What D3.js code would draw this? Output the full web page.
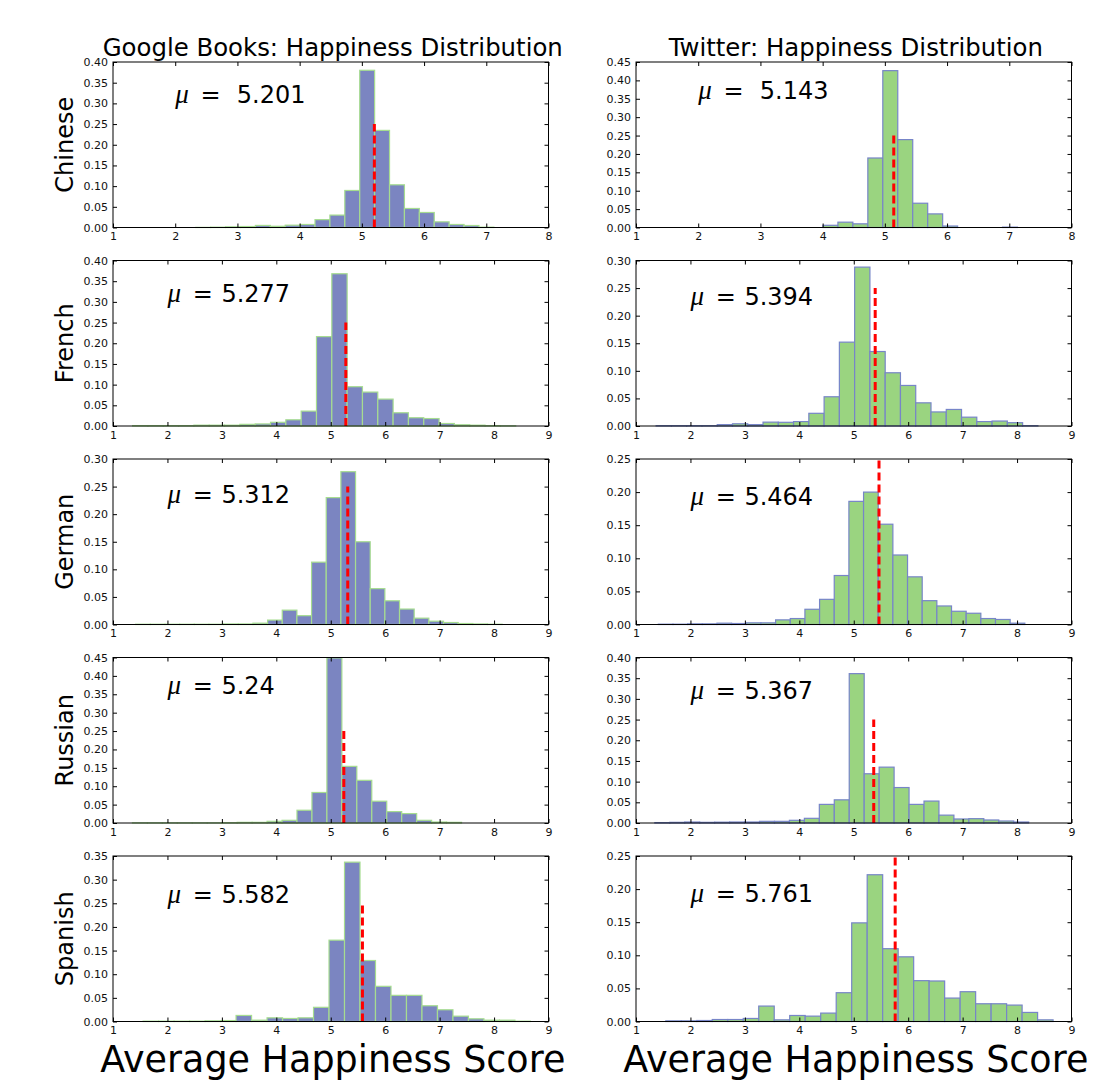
<!DOCTYPE html>
<html>
<head>
    <meta charset="utf-8">
    <title>Happiness Distribution</title>
    <script src="https://d3js.org/d3.v7.min.js"></script>
    <style>
        body { margin: 0; background: #fff; }
        text { font-family: "DejaVu Sans", sans-serif; }
    </style>
</head>
<body>
<div id="chart"></div>
<script type="text/javascript">
    // languages (one row each)
    let languages = ["Chinese", "French", "German", "Russian", "Spanish"];

    // x axis upper limit per row
    let xMaxes = [8, 9, 9, 9, 9];

    // Google Books column
    let booksMeans = [5.201, 5.277, 5.312, 5.24, 5.582];
    let booksYMax = [0.40, 0.40, 0.30, 0.45, 0.35];
    let booksLabelY = [0.30, 0.30, 0.22, 0.35, 0.25];
    let booksBinStart = [2.33, 1.36, 1.416, 1.357, 1.553];
    let booksBinWidth = [0.2396, 0.2815, 0.2693, 0.2748, 0.2846];
    let booksChinese = [0.0003, 0.0008, 0.0016, 0.0024, 0.005, 0.003, 0.0056, 0.0073, 0.019, 0.030,
        0.0895, 0.380, 0.2347, 0.1032, 0.046, 0.0363, 0.0137, 0.0073, 0.0048, 0.0008];
    let booksFrench = [0.001, 0.001, 0.001, 0.001, 0.002, 0.002, 0.002, 0.004, 0.005, 0.009, 0.015, 0.036,
        0.216, 0.368, 0.095, 0.082, 0.065, 0.032, 0.020, 0.018, 0.006, 0.003, 0.002, 0.001, 0.0005];
    let booksGerman = [0.0005, 0.0005, 0.0005, 0.0005, 0.0005, 0.0005, 0.001, 0.001, 0.0024, 0.008, 0.026, 0.016,
        0.113, 0.23, 0.277, 0.15, 0.065, 0.043, 0.028, 0.0115, 0.006, 0.0036, 0.0018, 0.001, 0.0005];
    let booksRussian = [0.0005, 0.0005, 0.0005, 0.0005, 0.0005, 0.0005, 0.0009, 0.0018, 0.0018, 0.0046, 0.0073, 0.0347,
        0.083, 0.449, 0.154, 0.116, 0.0593, 0.031, 0.0256, 0.0073, 0.0027, 0.0018, 0, 0, 0];
    let booksSpanish = [0.0007, 0.0007, 0.0007, 0.0007, 0.0014, 0.002, 0.0128, 0.0028, 0.0078, 0.0064, 0.0078, 0.030,
        0.172, 0.337, 0.129, 0.0744, 0.0553, 0.0553, 0.0333, 0.0248, 0.0113, 0.0057, 0.0028, 0.0028, 0.0007];

    // Twitter column
    let twitterMeans = [5.143, 5.394, 5.464, 5.367, 5.761];
    let twitterYMax = [0.45, 0.30, 0.25, 0.40, 0.25];
    let twitterLabelY = [0.35, 0.22, 0.18, 0.30, 0.18];
    let twitterBinStart = [4.005, 1.37, 1.41, 1.346, 1.547];
    let twitterBinWidth = [0.2405, 0.2805, 0.2693, 0.2747, 0.2846];
    let twitterChinese = [0.006, 0.0145, 0.010, 0.189, 0.4265, 0.239, 0.066, 0.037, 0.004, 0, 0, 0, 0.001];
    let twitterFrench = [0.0006, 0.0006, 0.0006, 0.0006, 0.0025, 0.004, 0.0025, 0.007, 0.0067, 0.008, 0.023, 0.053,
        0.152, 0.288, 0.135, 0.0965, 0.0735, 0.042, 0.0255, 0.030, 0.016, 0.008, 0.009, 0.006, 0.0006];
    let twitterGerman = [0.0005, 0.0005, 0.001, 0.001, 0.002, 0.0015, 0.0025, 0.0025, 0.007, 0.009, 0.023, 0.038,
        0.074, 0.186, 0.2, 0.1515, 0.105, 0.072, 0.036, 0.028, 0.020, 0.017, 0.009, 0.0076, 0.002];
    let twitterRussian = [0.001, 0.0016, 0.0024, 0.0016, 0.002, 0.0024, 0.0024, 0.004, 0.004, 0.0065, 0.0113, 0.045,
        0.056, 0.361, 0.119, 0.135, 0.0857, 0.045, 0.053, 0.019, 0.0097, 0.0105, 0.0073, 0.0048, 0.0024];
    let twitterSpanish = [0.001, 0.001, 0.0015, 0.003, 0.003, 0.0046, 0.0233, 0.0025, 0.0091, 0.0081, 0.0127, 0.0435,
        0.149, 0.2217, 0.110, 0.0977, 0.0617, 0.0612, 0.0354, 0.045, 0.0268, 0.0268, 0.0248, 0.0137, 0.0025];

    let booksHeights = [booksChinese, booksFrench, booksGerman, booksRussian, booksSpanish];
    let twitterHeights = [twitterChinese, twitterFrench, twitterGerman, twitterRussian, twitterSpanish];

    let meanLineTop = 0.25;

    // layout
    let width = 1098, height = 1087;
    let colX = [113, 636];
    let pw = 435.5, ph = 165.5;
    let rowTop = 62, rowStep = 198.5;

    let svg = d3.select("#chart")
            .append("svg")
                .attr("width", width)
                .attr("height", height);

    let columns = [
        {title: "Google Books: Happiness Distribution", means: booksMeans, ymax: booksYMax, labelY: booksLabelY,
         start: booksBinStart, bw: booksBinWidth, heights: booksHeights, fill: "#7b85c1", edge: "#a6dc90"},
        {title: "Twitter: Happiness Distribution", means: twitterMeans, ymax: twitterYMax, labelY: twitterLabelY,
         start: twitterBinStart, bw: twitterBinWidth, heights: twitterHeights, fill: "#9ad480", edge: "#7785c8"}
    ];

    function panel(col, c, r) {
        let g = svg.append("g")
            .attr("transform", "translate(" + colX[c] + "," + (rowTop + r * rowStep) + ")");

        let xScale = d3.scaleLinear().domain([1, xMaxes[r]]).range([0, pw]);
        let yScale = d3.scaleLinear().domain([0, col.ymax[r]]).range([ph, 0]);

        let bins = col.heights[r].map(function(v, i) {
            return {x0: col.start[r] + i * col.bw[r], x1: col.start[r] + (i + 1) * col.bw[r], v: v};
        });

        g.selectAll("rect.bar")
            .data(bins)
            .enter()
            .append("rect")
            .attr("class", "bar")
            .attr("x", function(d) { return xScale(d.x0); })
            .attr("width", function(d) { return xScale(d.x1) - xScale(d.x0); })
            .attr("y", function(d) { return yScale(d.v); })
            .attr("height", function(d) { return ph - yScale(d.v); })
            .attr("fill", col.fill)
            .attr("stroke", col.edge)
            .attr("stroke-width", 1.2);

        // dashed mean line
        g.append("line")
            .attr("x1", xScale(col.means[r]))
            .attr("x2", xScale(col.means[r]))
            .attr("y1", yScale(0))
            .attr("y2", yScale(meanLineTop))
            .attr("stroke", "#ff0000")
            .attr("stroke-width", 3)
            .attr("stroke-dasharray", "8,4");

        let xt = d3.range(1, xMaxes[r] + 1);
        let yt = d3.range(0, col.ymax[r] + 1e-9, 0.05);

        let axes = [
            g.append("g").attr("transform", "translate(0," + ph + ")")
                .call(d3.axisBottom(xScale).tickValues(xt).tickSizeInner(-4).tickSizeOuter(0).tickPadding(5)
                    .tickFormat(d3.format("d"))),
            g.append("g")
                .call(d3.axisTop(xScale).tickValues(xt).tickSizeInner(-4).tickSizeOuter(0).tickFormat("")),
            g.append("g")
                .call(d3.axisLeft(yScale).tickValues(yt).tickSizeInner(-4).tickSizeOuter(0).tickPadding(5)
                    .tickFormat(d3.format(".2f"))),
            g.append("g").attr("transform", "translate(" + pw + ",0)")
                .call(d3.axisRight(yScale).tickValues(yt).tickSizeInner(-4).tickSizeOuter(0).tickFormat(""))
        ];
        axes.forEach(function(a) {
            a.select(".domain").remove();
            a.selectAll("text")
                .attr("font-family", "DejaVu Sans, sans-serif")
                .attr("font-size", "11px")
                .attr("fill", "#111");
            a.selectAll("line").attr("stroke", "#000");
        });

        g.append("rect")
            .attr("width", pw)
            .attr("height", ph)
            .attr("fill", "none")
            .attr("stroke", "#000")
            .attr("stroke-width", 1);

        // mean annotation
        let label = g.append("text")
            .attr("x", xScale(2))
            .attr("y", yScale(col.labelY[r]))
            .attr("font-size", "24px")
            .style("white-space", "pre");
        label.append("tspan")
            .attr("font-family", "Liberation Serif, serif")
            .attr("font-style", "italic")
            .attr("font-size", "27px")
            .text("\u03bc");
        label.append("tspan").attr("dx", 4).text(r === 0 ? " =  " : " = ");
        label.append("tspan").attr("dx", 1).text(String(col.means[r]));

        if (c === 0) {
            svg.append("text")
                .attr("transform", "translate(73," + (rowTop + r * rowStep + ph / 2) + ") rotate(-90)")
                .style("text-anchor", "middle")
                .attr("font-size", "24px")
                .text(languages[r]);
        }
    }

    columns.forEach(function(col, c) {
        for (let r = 0; r < languages.length; r++) {
            panel(col, c, r);
        }
        svg.append("text")
            .attr("x", colX[c] + pw / 2 + 2)
            .attr("y", 56)
            .style("text-anchor", "middle")
            .attr("font-size", "24.4px")
            .text(col.title);
        svg.append("text")
            .attr("x", colX[c] + pw / 2 + 2)
            .attr("y", 1072)
            .style("text-anchor", "middle")
            .attr("font-size", "36.5px")
            .text("Average Happiness Score");
    });
</script>
</body>
</html>
